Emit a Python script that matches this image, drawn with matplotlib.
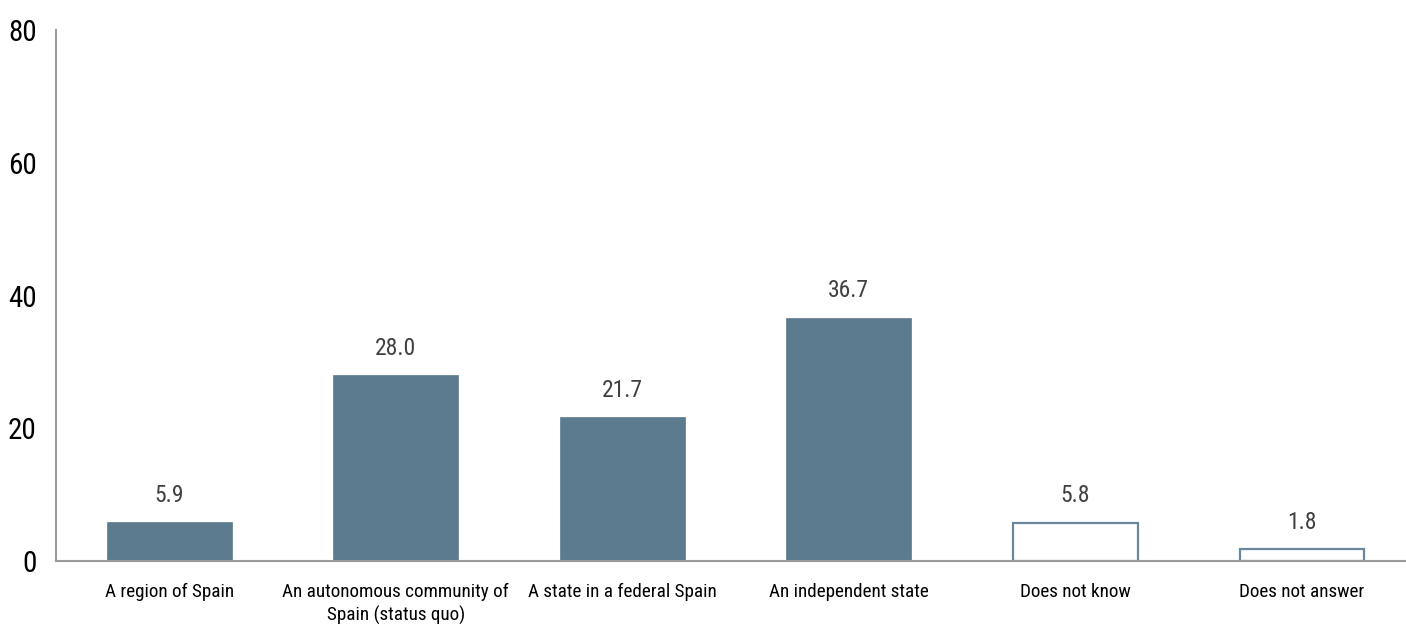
import matplotlib.pyplot as plt
from matplotlib import font_manager

categories = [
    "A region of Spain",
    "An autonomous community of\nSpain (status quo)",
    "A state in a federal Spain",
    "An independent state",
    "Does not know",
    "Does not answer",
]
values = [5.9, 28.0, 21.7, 36.7, 5.8, 1.8]
hollow = [False, False, False, False, True, True]
y_ticks = [0, 20, 40, 60, 80]

# prefer a condensed sans for the Arial-Narrow look
names = {f.name for f in font_manager.fontManager.ttflist}
family = "Liberation Sans"
for cand in ["Liberation Sans Narrow", "Arial Narrow", "Roboto Condensed",
             "Archivo Narrow", "PT Sans Narrow", "Open Sans Condensed"]:
    if cand in names:
        family = cand
        break
plt.rcParams["font.family"] = [family, "DejaVu Sans"]

BAR = "#5c7b8e"
EDGE = "#6a889b"
SPINE = "#9a9a9a"

fig = plt.figure(figsize=(14.06, 6.3), dpi=100)
ax = fig.add_axes([0.0398, 0.1095, 0.9602, 0.8425])

x = list(range(len(categories)))
for xi, v, h in zip(x, values, hollow):
    if h:
        ax.bar(xi, v, width=0.55, facecolor="white", edgecolor=EDGE, linewidth=1.6)
    else:
        ax.bar(xi, v, width=0.55, color=BAR, edgecolor=BAR, linewidth=0.5)
    ax.annotate(f"{v:.1f}", (xi, v), xytext=(0, 11), textcoords="offset points",
                ha="center", va="bottom", fontsize=17, color="#404040")

ax.set_xlim(-0.5, 5.46)
ax.set_ylim(0, 80)
ax.set_yticks(y_ticks)
ax.set_xticks(x)
ax.set_xticklabels(categories, fontsize=13.8, linespacing=1.3)
ax.tick_params(axis="y", length=0, pad=14, labelsize=21)
ax.tick_params(axis="x", length=0, pad=16)

for side in ("top", "right"):
    ax.spines[side].set_visible(False)
for side in ("left", "bottom"):
    ax.spines[side].set_color(SPINE)
    ax.spines[side].set_linewidth(1.5)

fig.savefig("out.png", dpi=100)
